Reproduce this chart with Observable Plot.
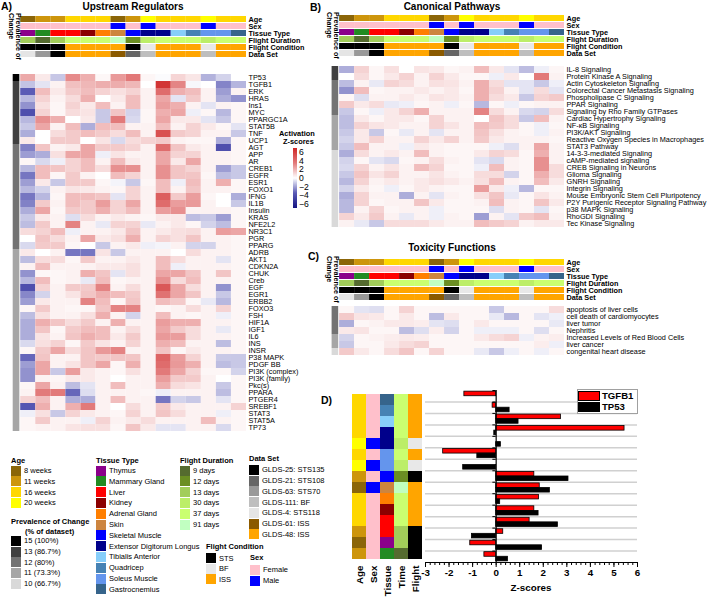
<!DOCTYPE html>
<html><head><meta charset="utf-8">
<script src="https://cdn.jsdelivr.net/npm/d3@7"></script>
<script src="https://cdn.jsdelivr.net/npm/@observablehq/plot@0.6"></script>
<style>
body{margin:0;background:#fff;}
#root{position:relative;width:711px;height:597px;overflow:hidden;font-family:"Liberation Sans",Arial,Helvetica,sans-serif;color:#000;background:#fff;}
.t{position:absolute;white-space:nowrap;}
.sw{position:absolute;}
svg text{fill:#000;}
</style></head><body><div id="root"></div>
<script>
// ---------------- DATA ----------------
const datasetIds = ["Thymus","Mammary","Liver-STS","Liver-ISS","Kidney","Adrenal","Skin","Skeletal","EDL-BF","EDL-ISS","Tibialis","Quadricep","Soleus-BF","Soleus-ISS","Gastrocnemius"];
const ageOf = ["8 weeks","11 weeks","11 weeks","16 weeks","16 weeks","16 weeks","8 weeks","11 weeks","20 weeks","16 weeks","16 weeks","16 weeks","20 weeks","16 weeks","16 weeks"];
const sexOf = ["Female","Female","Female","Female","Female","Female","Male","Female","Male","Female","Female","Female","Male","Female","Female"];
const tissueOf = ["Thymus","Mammary Gland","Liver","Liver","Kidney","Adrenal Gland","Skin","Skeletal Muscle","Extensor Digitorum Longus","Extensor Digitorum Longus","Tibialis Anterior","Quadricep","Soleus Muscle","Soleus Muscle","Gastrocnemius"];
const durationOf = ["13 days","9 days","13 days","37 days","37 days","37 days","91 days","12 days","30 days","37 days","37 days","37 days","30 days","37 days","37 days"];
const conditionOf = ["STS","STS","STS","ISS","ISS","ISS","ISS","STS","BF","ISS","ISS","ISS","BF","ISS","ISS"];
const dataSetOf = ["GLDS-4: STS118","GLDS-63: STS70","GLDS-25: STS135","GLDS-48: ISS","GLDS-48: ISS","GLDS-48: ISS","GLDS-61: ISS","GLDS-21: STS108","GLDS-111: BF","GLDS-48: ISS","GLDS-48: ISS","GLDS-48: ISS","GLDS-111: BF","GLDS-48: ISS","GLDS-48: ISS"];
const headerLabels = ["Age","Sex","Tissue Type","Flight Duration","Flight Condition","Data Set"];

const ageCats = ["8 weeks","11 weeks","16 weeks","20 weeks"];
const ageColors = ["#8b6508","#cd950c","#ffd700","#ffff00"];
const tissueCats = ["Thymus","Mammary Gland","Liver","Kidney","Adrenal Gland","Skin","Skeletal Muscle","Extensor Digitorum Longus","Tibialis Anterior","Quadricep","Soleus Muscle","Gastrocnemius"];
const tissueColors = ["#8b008b","#228b22","#ff0000","#8b0000","#ff7f00","#cd853f","#0000ff","#00008b","#87cefa","#4682b4","#6495ed","#36648b"];
const durationCats = ["9 days","12 days","13 days","30 days","37 days","91 days"];
const durationColors = ["#556b2f","#6b8e23","#a2cd5a","#bcee68","#caff70","#c1ffc1"];
const conditionCats = ["STS","BF","ISS"];
const conditionColors = ["#000000","#e8e8e8","#ffa500"];
const dataSetCats = ["GLDS-25: STS135","GLDS-21: STS108","GLDS-63: STS70","GLDS-111: BF","GLDS-4: STS118","GLDS-61: ISS","GLDS-48: ISS"];
const dataSetColors = ["#000000","#666666","#999999","#bebebe","#e5e5e5","#8b5a00","#ffa500"];
const sexCats = ["Female","Male"];
const sexColors = ["#ffc0cb","#0000ff"];
const prevCounts = [15,13,12,11,10];
const prevCats = ["15 (100%)","13 (86.7%)","12 (80%)","11 (73.3%)","10 (66.7%)"];
const prevColors = ["#000000","#404040","#737373","#a6a6a6","#d9d9d9"];

const heatDomain = [-6,-3,0,3,6];
const heatRange = ["#141482","#5b5bb5","#ffffff","#e27a7a","#cf2626"];
const heatTicks = ["6","4","2","0","\u22122","\u22124","\u22126"];

// Panel A: upstream regulators
const rowsA = ["TP53","TGFB1","ERK","HRAS","Ins1","MYC","PPARGC1A","STAT5B","TNF","UCP1","AGT","APP","AR","CREB1","EGFR","ESR1","FOXO1","IFNG","IL1B","Insulin","KRAS","NFE2L2","NR3C1","PGR","PPARG","ADRB","AKT1","CDKN2A","CHUK","Creb","EGF","EGR1","ERBB2","FOXO3","FSH","HIF1A","IGF1","IL6","INS","INSR","P38 MAPK","PDGF BB","PI3K (complex)","PI3K (family)","Pkc(s)","PPARA","PTGER4","SREBF1","STAT3","STAT5A","TP73"];
const prevA = [15,13,13,13,13,13,13,13,13,13,12,12,12,12,12,12,12,12,12,12,12,12,12,12,12,11,11,11,11,11,11,11,11,11,11,11,11,11,11,11,11,11,11,11,11,11,11,11,11,11,11];
const valuesA = [
[1.95,0.5,-1.03,2.62,1.8,0.17,2.28,3.07,0.2,-0.08,0.95,0.57,-1.4,-0.8,0],
[-1.1,-0.5,0.3,1.42,1.62,1.82,1.85,1.62,0,5.45,2.75,-0.15,0,-2.25,-1.35],
[-3,1.5,0.5,1.2,1.5,1,0.7,1,0.3,3.5,1.8,1.5,0.3,-1.8,0.3],
[-1.3,1,0.3,0.8,1.8,0,0.5,1.5,0.3,2,-0.5,1.2,0.3,-1.5,-2],
[-2,0.7,0.2,1,0.5,1.5,0.3,1.5,0.3,2.2,1.8,0.3,-0.5,0.3,0.2],
[-3.5,1,0.2,0.8,0.6,-1,1.3,-0.8,0.2,1.8,2,-0.3,0.2,-1.3,0.2],
[-1.3,2.5,1.8,0,0.5,-1,3,-0.7,0.2,2,0.5,0.5,-0.5,-1,0.2],
[-1,2,0.3,1.5,-1.5,1.5,1.5,0.3,0.3,1.5,0.3,1,0.5,0.2,-0.5],
[-1.5,0,0.8,1.2,1.5,1.2,0.8,1.5,0.3,4.5,1.2,1,0.3,0.3,-1],
[0.5,0,1.2,1.2,0,0.6,-0.7,0.8,1,1.2,0.3,0.2,0.2,-1.5,0.2],
[-2.3,1.3,0.3,0.5,2,1.2,1.2,1,0.3,3.5,1.3,0.5,0.3,-3.5,0.2],
[-1.8,-1.5,0.7,2,2,-0.3,0.6,0.3,0.3,2,1,1,0.3,0.3,0.2],
[0.2,-0.7,-0.3,1,1.5,0.3,1.5,0.5,0.3,2,0.5,2,0.3,0.3,0.2],
[-1.3,1.5,1.3,1,1.5,0.8,2.5,2.5,0.3,2.5,1.3,1,0.3,-1.8,-1],
[-2.5,1.5,0.2,1.2,0.3,0,1.5,1,0.3,2.5,1.3,1.3,0.2,-1.2,-1],
[-1.8,0.5,-1,1.2,1.2,0.2,-0.2,-1,0.2,1.5,-0.3,1.5,0.3,1.8,0.2],
[-1.3,-0.8,0.3,0.6,0.5,0.3,0.2,1,0.3,1.5,0.3,1.3,0.3,0.3,0.2],
[-2.5,-1.3,0.2,1.5,1.5,1.3,-0.5,1,0.3,4,1.2,2.2,0.2,0,-1.5],
[-2.3,1.2,0.3,1.5,1.2,2.2,1,2,0.3,3.5,2.2,2.3,0.3,0,-1],
[-1.5,2,0.2,1.2,1.2,1.8,1,1.5,0.3,2.2,2.5,0.3,0.3,0.3,0.2],
[-1,0.5,0.3,-0.6,0.8,0.3,0.5,0.3,0.2,0.5,0.5,-1.2,-1,-1.8,0.2],
[-1.2,1.2,0.3,2.8,0.3,-0.4,1,1,-0.4,0.3,0.5,0.2,-0.8,-1.2,0.2],
[0.8,1,1.5,-0.3,0.3,0.3,0.5,1.3,0.3,0.5,0.7,0.8,0.3,2.2,2],
[0,1.3,0.8,0.3,2,0.5,0.7,1.8,0.3,1,0.7,1.3,0.3,0.3,0.2],
[-0.7,1.2,1.2,0.2,0,-1,0.3,0.5,-0.3,-0.2,0.3,-0.8,-0.8,0.3,0.2],
[0.5,0,0.3,-2.5,-2.5,0.6,-1,0.3,0.3,0.3,0,0.8,0.3,0.3,0.2],
[-1.2,0.8,0.8,0.2,1.2,0.3,0.3,0.5,0.3,1.5,0.8,0.3,0.3,-0.5,0.2],
[0.3,1.5,0.3,0.3,0.3,0.5,0.5,0.7,0.3,1.5,-0.3,0.3,0.3,0.3,0.2],
[-2,0.2,0.2,0.3,1.8,1.3,-0.5,0.7,0.3,2,2,1.3,0.3,1.3,0.2],
[-1.3,1.5,0.2,0.3,-0.4,1.5,0.2,0.3,0.3,2.5,0.8,1.5,0.3,0.3,0.2],
[-3.5,1,0.3,1.2,1.2,2.8,0.3,0.8,0.3,4.2,2,0.8,0.3,-2,0.2],
[-2.2,-0.8,0.3,0.6,1.3,1.8,1.5,1.2,0.3,3.3,2,1.3,0.3,-1,0.2],
[-1.8,0.5,0.3,0.3,2.8,1.5,0.2,1.3,0.3,1.5,1.2,0.2,-0.4,-1.3,0.2],
[0.2,1.2,0.3,0.2,0.2,1.3,2.8,2.8,0.3,0.2,0.3,0.8,0.3,1,0.2],
[-1.2,0.7,0.3,0.3,0.7,1.8,0.3,-0.8,0.3,1.5,0.3,0.2,0.3,-0.3,0.2],
[-1.5,1.8,1.3,0.8,1.2,0.3,1.8,0.3,0.3,2.2,1.8,1.8,0.3,0.3,0.2],
[-1.5,1.3,0.2,1.2,1.5,1.5,0.3,0.8,0.3,2,1.2,0.8,0.3,-0.4,0.2],
[-1.5,0.6,0.3,1.3,1.8,1.5,0.5,1.2,0.3,2.3,2.2,0.8,0.3,0.3,0.2],
[-0.7,0.7,1,0.2,1.2,0.6,0.3,1,0.3,1.8,1.5,0.3,0.3,-1.2,0.2],
[0.2,1.2,2,0.8,1.3,2.3,2.8,0.3,0.3,1.3,0.2,0.5,0.3,0.3,0.2],
[-2.8,1.3,0.3,0.3,1.3,1.2,1.3,1.3,0.3,3.8,2.2,1,0.3,-1,-1],
[-1.8,2,0.3,0.6,1.3,2,0.2,1.8,0.3,3.5,2.3,1.8,0.3,-1.2,-1],
[-2,2,-1,2.2,0.5,0.3,0.2,0.7,0.3,3,2,1,0.2,0.2,-0.8],
[-2,0.3,0.2,0.5,0.5,0.3,0,0.3,0.3,2.2,1.2,1.2,0.3,0,0.2],
[0.2,2,0.3,-1.2,-0.5,0.3,1.5,0.3,0.3,1.8,0.8,0.6,0.3,-1,0.2],
[0.3,3,3,-2.8,-0.6,0.3,0.3,0.3,0.2,-0.3,0.3,0.3,0.3,-1.2,0.2],
[1,1.5,0.3,-1.5,-1.5,0.3,1.5,0.3,0.3,-2.5,-0.8,-1,0.3,-0.5,0.2],
[-3.2,1.8,0.3,1.8,3,0.3,0,0.8,0.3,1.2,0.5,0.3,0.3,0.3,1],
[-0.3,0.7,-1,1,0.5,0.3,0.2,1,0.3,1.3,0.8,0.3,0.3,-0.3,0.2],
[0.2,1.2,0.3,0.3,-0.3,1,0.3,0.5,0.8,0.3,0.3,0.3,1.5,0.3,0.2],
[0.2,0.3,0.3,0.6,0.7,0.7,0.2,1.3,0.5,-0.5,-0.5,0.3,0.3,-0.7,0.2]
];

// Panel B: canonical pathways
const rowsB = ["IL-8 Signaling","Protein Kinase A Signaling","Actin Cytoskeleton Signaling","Colorectal Cancer Metastasis Signaling","Phospholipase C Signaling","PPAR Signaling","Signaling by Rho Family GTPases","Cardiac Hypertrophy Signaling","NF-\u03baB Signaling","PI3K/AKT Signaling","Reactive Oxygen Species in Macrophages","STAT3 Pathway","14-3-3-mediated Signaling","cAMP-mediated signaling","CREB Signaling in Neurons","Glioma Signaling","GNRH Signaling","Integrin Signaling","Mouse Embryonic Stem Cell Pluripotency","P2Y Purigenic Receptor Signaling Pathway","p38 MAPK Signaling","RhoGDI Signaling","Tec Kinase Signaling"];
const prevB = [13,13,12,12,12,12,12,11,11,11,11,11,10,10,10,10,10,10,10,10,10,10,10];
const valuesB = [
[-1.5,1,0.2,0.7,0,0.6,0.5,0.2,0.3,1.5,0.5,-0.5,-1.2,-0.3,0.2],
[0,0.8,0.2,0.5,1,0.3,1,0.5,0.2,0.2,-0.3,0.5,0,3,0.3],
[-1.2,0.3,-0.4,1,0.8,0.3,0.7,0.6,0.3,1.8,0.8,-0.5,-0.5,-1,-0.3],
[-2,1.5,0.2,0.3,0.3,0.5,0.3,0.5,0.2,1.8,1,0.3,-0.5,0.8,-0.5],
[0.2,-0.6,0.3,0.3,0.5,0.3,0.6,0.5,0.3,1.8,0.8,0.5,-1,1,1.2],
[1.2,0.5,0.8,-0.4,-0.3,0.2,0.3,-0.3,0.2,-1.3,0.2,-0.3,0.2,0.3,0.3],
[-1,0.2,-0.3,0.5,1,1.8,0.3,0.3,0.3,2.8,0.8,0.3,-0.7,-0.8,0.8],
[-1.2,0.5,0.2,0.5,0.5,0.2,1,0.3,0.3,0,1.3,0.8,-1,1.5,0.3],
[-1.2,1,0.6,0.5,0.3,0.3,1,0.6,0.3,1.5,1.2,0.8,0.2,-0.3,0.2],
[-1,0.5,-1,0.2,-0.4,0.3,-0.5,0.3,0.3,1.3,0.7,0.3,0.2,-0.3,0.3],
[-0.8,0.5,1,0.3,0.3,1,0.5,1,0.3,1.2,0.5,0.3,0.3,0.3,0.2],
[-1,1.5,0.3,0.3,-0.3,0.5,0.3,0.2,0.2,0.2,-0.3,-0.6,0.3,2,0.3],
[-1.5,0.8,0.3,0.5,0.3,1.5,0.3,0.2,0.2,0.5,1,0.8,0.2,1.8,0.3],
[-0.8,0.2,-0.5,-0.7,0.2,0.3,0.8,0.3,0.2,-0.5,-0.7,0.3,0.2,2.5,0.3],
[-0.7,1,0.3,0.6,0.3,1.5,1,0.2,0.2,-0.3,1.5,0.3,0.2,2.5,0.8],
[-1,1.3,0.6,1,0.3,0.3,0.6,0.3,0.2,0.8,0.8,-0.8,0.2,1.8,0.8],
[-1.3,1,0.3,0.5,0.3,0.5,0.7,0.5,0.3,0.7,1.5,0.3,0.2,1.5,0.5],
[-0.8,0.5,0.2,-0.3,0.2,0.5,0.3,0.2,0.2,2.2,0.5,-0.3,-1.3,0.2,0.2],
[-1.5,1,0.3,0.3,-1.5,0.3,-0.5,0.3,0.2,0.7,1.3,-0.4,0.2,0.6,0.3],
[-1.3,1,0.2,0.3,0.3,1.3,0.5,0.2,0.2,0.3,1.5,0.3,0.2,1.3,0.5],
[-1.3,0.3,1,0.2,0.3,0.3,-0.3,0.2,0.2,0.2,-0.6,0.3,0.2,-0.5,0.2],
[1,0.5,1.2,0.3,-0.4,0.3,-0.3,0.3,0.2,-1.8,0.3,-0.5,1.2,1.5,0.3],
[0.3,-0.4,-1,0.8,0.8,0.8,0.5,0.3,0.3,1.5,1.2,1,0.3,0.5,0.5]
];

// Panel C: toxicity functions
const rowsC = ["apoptosis of liver cells","cell death of cardiomyocytes","liver tumor","Nephritis","Increased Levels of Red Blood Cells","liver cancer","congenital heart disease"];
const prevC = [12,12,12,12,11,11,10];
const valuesC = [
[0.2,-0.5,-0.6,0.2,1,0.2,0.2,0.2,0.2,0.2,-1,0.2,0.2,0.2,0.8],
[1.2,0.6,0.5,0.2,0.5,0.2,-1.2,0.5,0.2,0.2,-0.4,-1.3,0.2,-0.5,-0.3],
[-1.5,0.2,0.3,0.5,0.5,0.4,-0.5,-0.6,0.2,0.5,0.2,0.2,0.2,0.2,-0.4],
[0.5,0.6,0.2,0.2,-1.2,-0.6,0.4,-0.8,0.2,-0.3,-0.3,-0.3,0.2,-0.6,0.2],
[-0.8,0.2,0.3,0.4,0.5,0.4,0.2,0.2,0.2,0.5,0.8,1,-0.3,0.3,0.4],
[-1,0.2,0.2,0.5,0.8,1,0.2,0.2,0.2,0.2,0.2,0.2,0.2,0.4,-0.3],
[1.2,0.5,0.2,0.8,1.3,0.2,1,0.2,0.2,-0.4,-1,-0.3,0.2,-0.3,0.2]
];

// Panel D: TGFB1 / TP53 z-scores per data set (top to bottom)
const dOrder = ["Gastrocnemius","Quadricep","Tibialis","EDL-ISS","EDL-BF","Soleus-ISS","Soleus-BF","Skeletal","Skin","Adrenal","Kidney","Liver-ISS","Liver-STS","Thymus","Mammary"];
const tgfb1D = [-1.35,-0.15,2.75,5.45,0,-2.25,0,1.62,1.85,1.82,1.62,1.42,0.3,-1.1,-0.5];
const tp53D = [0,0.57,0.95,-0.08,0.2,-0.8,-1.4,3.07,2.28,0.17,1.8,2.62,-1.03,1.95,0.5];
const dColumns = ["Age","Sex","Tissue","Time","Flight"];
const dMajorTicks = [-3,-2,-1,0,1,2,3,4,5,6];

// ---------------- HELPERS ----------------
const W = 711, H = 597;
const FONT = '"Liberation Sans", Arial, Helvetica, sans-serif';
const root = document.getElementById("root");
const catDomain = [...ageCats, ...sexCats, ...tissueCats, ...durationCats, ...conditionCats, ...dataSetCats];
const catRange = [...ageColors, ...sexColors, ...tissueColors, ...durationColors, ...conditionColors, ...dataSetColors];
const headerValues = [ageOf, sexOf, tissueOf, durationOf, conditionOf, dataSetOf];

function overlay(opts, style = {}) {
  const p = Plot.plot({width: W, height: H, ...opts,
    style: {background: "transparent", fontFamily: FONT, overflow: "visible", color: "#000", ...style}});
  p.style.position = "absolute"; p.style.left = "0px"; p.style.top = "0px";
  root.appendChild(p);
  return p;
}
function text(str, x, yc, {size = 7.5, bold = false, anchor = "start", color = "#000"} = {}) {
  const d = document.createElement("div");
  d.className = "t";
  d.textContent = str;
  d.style.fontSize = size + "px";
  d.style.lineHeight = size + "px";
  d.style.fontWeight = bold ? "bold" : "normal";
  d.style.color = color;
  d.style.top = (yc - size / 2) + "px";
  if (anchor === "middle") { d.style.left = x + "px"; d.style.transform = "translateX(-50%)"; }
  else if (anchor === "end") { d.style.right = (W - x) + "px"; }
  else d.style.left = x + "px";
  root.appendChild(d);
  return d;
}
function box(x, y, w, h, fill, border) {
  const d = document.createElement("div");
  d.className = "sw";
  d.style.left = x + "px"; d.style.top = y + "px";
  d.style.width = w + "px"; d.style.height = h + "px";
  d.style.background = fill;
  d.style.boxSizing = "border-box";
  if (border) d.style.border = border;
  root.appendChild(d);
  return d;
}
function vtext(lines, xRight, yTop, size) {
  const d = document.createElement("div");
  d.className = "t";
  d.style.writingMode = "vertical-rl";
  d.style.fontSize = size + "px";
  d.style.lineHeight = (size * 0.95) + "px";
  d.style.fontWeight = "bold";
  d.style.top = yTop + "px";
  d.style.right = (W - xRight) + "px";
  d.innerHTML = lines.join("<br>");
  root.appendChild(d);
}
function legend(title, cats, colors, x, titleY, firstY, step = 10.8) {
  text(title, x, titleY, {bold: true});
  cats.forEach((c, i) => {
    box(x, firstY + i * step, 10, 10, colors[i]);
    text(c, x + 13, firstY + i * step + 5.2);
  });
}

// heatmap panel: x domain [-0.5, 15] => prevalence strip in [-0.5, 0], data sets in [c, c+1]
function heatPanel({rows, values, prev, xLeft, xRight, headTop, headBottom, bodyTop, bodyBottom, fontSize}) {
  const common = {marginLeft: xLeft, marginRight: W - xRight, x: {domain: [-0.5, 15], axis: null}};
  const headData = headerLabels.flatMap((lab, h) => headerValues[h].map((v, c) => ({row: lab, col: c, cat: v})));
  overlay({...common, marginTop: headTop, marginBottom: H - headBottom,
    y: {domain: headerLabels, axis: "right", tickSize: 0, tickPadding: 2, label: null, padding: 0.08},
    color: {type: "ordinal", domain: catDomain, range: catRange},
    marks: [Plot.barX(headData, {x1: d => d.col, x2: d => d.col + 1, y: "row", fill: "cat"})]
  }, {fontSize: fontSize + "px", fontWeight: "bold"});
  const bodyData = rows.flatMap((r, i) => values[i].map((z, c) => ({row: r, col: c, z})));
  overlay({...common, marginTop: bodyTop, marginBottom: H - bodyBottom,
    y: {domain: rows, axis: "right", tickSize: 0, tickPadding: 2, label: null, padding: 0},
    color: {type: "linear", domain: heatDomain, range: heatRange, interpolate: "rgb"},
    marks: [Plot.barX(bodyData, {x1: d => d.col, x2: d => d.col + 1, y: "row", fill: "z"})]
  }, {fontSize: fontSize + "px"});
  const prevData = rows.map((r, i) => ({row: r, p: prevCats[prevCounts.indexOf(prev[i])]}));
  overlay({...common, marginTop: bodyTop, marginBottom: H - bodyBottom,
    y: {domain: rows, axis: null, padding: 0},
    color: {type: "ordinal", domain: prevCats, range: prevColors},
    marks: [Plot.barX(prevData, {x1: -0.5, x2: -0.06, y: "row", fill: "p"})]
  });
}

// ---------------- PANELS A, B, C ----------------
heatPanel({rows: rowsA, values: valuesA, prev: prevA, xLeft: 12.7, xRight: 246,
  headTop: 13.2, headBottom: 60.6, bodyTop: 61.5, bodyBottom: 444, fontSize: 7.3});
heatPanel({rows: rowsB, values: valuesB, prev: prevB, xLeft: 331.6, xRight: 564,
  headTop: 11.6, headBottom: 59.3, bodyTop: 60, bodyBottom: 232, fontSize: 7.3});
heatPanel({rows: rowsC, values: valuesC, prev: prevC, xLeft: 331.6, xRight: 564,
  headTop: 256.5, headBottom: 303, bodyTop: 303.6, bodyBottom: 357, fontSize: 7.3});

text("A)", 1, 6.5, {size: 10.5, bold: true});
text("Upstream Regulators", 133, 6.5, {size: 10, bold: true, anchor: "middle"});
text("B)", 310, 7.5, {size: 10.5, bold: true});
text("Canonical Pathways", 452, 6.5, {size: 10, bold: true, anchor: "middle"});
text("C)", 308, 256, {size: 10.5, bold: true});
text("Toxicity Functions", 452, 248, {size: 10, bold: true, anchor: "middle"});
text("D)", 321, 400.5, {size: 10.5, bold: true});

vtext(["Prevalence of", "Change"], 20.5, 13, 7.2);
vtext(["Prevalence of", "Change"], 338.5, 11.5, 7.2);
vtext(["Prevalence of", "Change"], 338.5, 256, 7.2);

// Activation z-score ramp
text("Activation", 279, 133.5, {size: 7.4, bold: true});
text("Z-scores", 283, 141.5, {size: 7.4, bold: true});
const ramp = box(293, 148, 3.5, 60, "none");
ramp.style.background = "linear-gradient(to bottom," + heatRange.slice().reverse().join(",") + ")";
heatTicks.forEach((t, i) => text(t, 299, 152.5 + i * 8.6, {size: 8.6}));

// ---------------- LEGENDS ----------------
legend("Age", ageCats, ageColors, 11, 461, 465.6);
text("Prevalence of Change", 11, 522, {bold: true});
text("(% of dataset)", 25, 531.5, {bold: true});
prevCats.forEach((c, i) => { box(11, 535.8 + i * 10.7, 10, 10, prevColors[i]); text(c, 24, 541 + i * 10.7); });
legend("Tissue Type", tissueCats, tissueColors, 96, 461, 465.6);
legend("Flight Duration", durationCats, durationColors, 180, 461, 465.6);
legend("Flight Condition", conditionCats, conditionColors, 206, 547, 553.3, 10.5);
legend("Data Set", dataSetCats, dataSetColors, 249, 459, 465, 10.7);
legend("Sex", sexCats, sexColors, 250, 558, 565, 10.7);

// ---------------- PANEL D ----------------
const byId = Object.fromEntries(datasetIds.map((id, c) => [id, c]));
const stripData = dOrder.flatMap(id => {
  const c = byId[id];
  return [["Age", ageOf[c]], ["Sex", sexOf[c]], ["Tissue", tissueOf[c]], ["Time", durationOf[c]], ["Flight", conditionOf[c]]]
    .map(([col, cat]) => ({id, col, cat}));
});
overlay({marginLeft: 350, marginRight: W - 424, marginTop: 390, marginBottom: H - 562,
  x: {domain: dColumns, padding: 0, tickRotate: -90, tickSize: 0, tickPadding: 3, label: null},
  y: {domain: dOrder, padding: 0, axis: null},
  color: {type: "ordinal", domain: catDomain, range: catRange},
  marks: [Plot.cell(stripData, {x: "col", y: "id", fill: "cat"})]
}, {fontSize: "9.8px", fontWeight: "bold"});

const barsD = dOrder.map((id, i) => ({i, tgfb1: tgfb1D[i], tp53: tp53D[i]}));
const boundaries = d3.range(0, dOrder.length + 1);
const minorTicks = d3.range(-30, 61, 2).map(v => v / 10);
overlay({marginLeft: 425, marginRight: W - 637, marginTop: 390, marginBottom: H - 562,
  x: {domain: [-3, 6]},
  y: {domain: [0, dOrder.length], reverse: true, axis: null},
  marks: [
    Plot.ruleY(boundaries.slice(1, -1), {stroke: "#d0d0d0", strokeWidth: 1.5}),
    Plot.rect(barsD.filter(d => d.tgfb1 !== 0), {x1: 0, x2: "tgfb1", y1: d => d.i + 0.1, y2: d => d.i + 0.5, fill: "#ff0000", stroke: "#000", strokeWidth: 0.8}),
    Plot.rect(barsD.filter(d => d.tp53 !== 0), {x1: 0, x2: "tp53", y1: d => d.i + 0.5, y2: d => d.i + 0.9, fill: "#000", stroke: "#000", strokeWidth: 0.8}),
    Plot.ruleX([0], {stroke: "#000", strokeWidth: 1.2}),
    Plot.ruleY(boundaries, {x1: -0.14, x2: 0, stroke: "#000", strokeWidth: 1}),
    Plot.ruleY([dOrder.length], {stroke: "#000", strokeWidth: 1.2}),
    Plot.axisX(minorTicks, {tickSize: 3, tickFormat: () => "", label: null}),
    Plot.axisX(dMajorTicks, {tickSize: 5, tickPadding: 2, tickFormat: d => String(d), label: null})
  ]
}, {fontSize: "9.8px", fontWeight: "bold"});
text("Z-scores", 531, 587.5, {size: 9.8, bold: true, anchor: "middle"});

// D legend
box(576.5, 389, 61, 25, "#fff", "1px solid #a0a0a0");
box(578, 391, 21.5, 9.5, "#ff0000", "1px solid #000");
box(578, 402, 21.5, 9.5, "#000", "1px solid #000");
text("TGFB1", 602, 396, {size: 9.6, bold: true});
text("TP53", 602, 407, {size: 9.6, bold: true});
</script></body></html>
